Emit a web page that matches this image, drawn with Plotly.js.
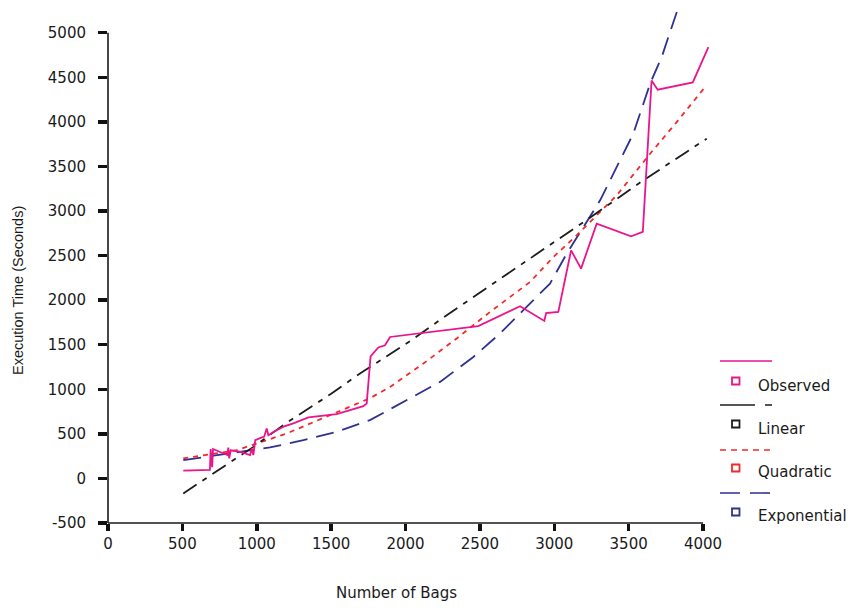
<!DOCTYPE html>
<html>
<head>
<meta charset="utf-8">
<script src="https://cdn.plot.ly/plotly-3.0.1.min.js"></script>
<style>html,body{margin:0;padding:0;background:#fff;}#chart{width:857px;height:608px;}</style>
</head>
<body>
<div id="chart"></div>
<script>
// ---- data ----
var seriesNames = ["Observed", "Linear", "Quadratic", "Exponential"];

var observedBags = [506, 685, 690, 700, 706, 802, 809, 815, 825, 887, 955, 966, 977, 985, 990, 1022, 1050, 1067, 1078, 1120, 1190, 1246, 1347, 1537, 1716, 1739, 1765, 1817, 1862, 1896, 2489, 2770, 2933, 2945, 3027, 3113, 3180, 3285, 3516, 3595, 3654, 3695, 3931, 4036];
var observedTime = [88, 95, 330, 125, 330, 262, 345, 225, 315, 300, 262, 335, 262, 345, 430, 452, 470, 560, 485, 530, 588, 617, 684, 721, 811, 841, 1370, 1469, 1494, 1587, 1708, 1932, 1767, 1856, 1868, 2559, 2354, 2859, 2716, 2765, 4465, 4361, 4443, 4839];

var linearBags = [506, 750, 977, 1201, 1500, 1694, 2030, 2250, 2500, 2750, 3000, 3263, 3577, 3800, 4025];
var linearTime = [-168, 105, 354, 625, 950, 1177, 1540, 1800, 2085, 2365, 2650, 2952, 3320, 3560, 3812];

var quadBags = [506, 865, 1201, 1536, 1761, 1896, 2120, 2344, 2568, 2748, 2837, 2994, 3151, 3285, 3420, 3644, 3823, 4013];
var quadTime = [224, 317, 504, 740, 900, 1027, 1289, 1570, 1868, 2092, 2204, 2484, 2728, 2952, 3176, 3643, 3998, 4390];

var expBags = [506, 865, 1089, 1313, 1537, 1761, 2008, 2232, 2456, 2635, 2792, 2971, 3084, 3195, 3308, 3531, 3644, 3722, 3827];
var expTime = [205, 298, 348, 429, 522, 654, 878, 1083, 1363, 1626, 1887, 2186, 2522, 2821, 3120, 3868, 4428, 4727, 5250];

var xTickVals = [0, 500, 1000, 1500, 2000, 2500, 3000, 3500, 4000];
var yTickVals = [-500, 0, 500, 1000, 1500, 2000, 2500, 3000, 3500, 4000, 4500, 5000];

// ---- styles ----
var colors = ["#e8158c", "#1c1c1c", "#f2282a", "#2e3192"];
var dashes = ["solid", "16px,7px,5px,7px", "5px,5px", "18px,9px"];
var legendDashes = ["solid", "35px,10px,7px,10px", "6px,5px", "20px,10px"];

var M = {l: 108, r: 148, t: 6, b: 85};
var W = 857, H = 608;
var pw = W - M.l - M.r, ph = H - M.t - M.b;
function px(x) { return (x - M.l) / pw; }
function py(y) { return (H - M.b - y) / ph; }

var bagsList = [observedBags, linearBags, quadBags, expBags];
var timeList = [observedTime, linearTime, quadTime, expTime];

var traces = [];
[3, 2, 1, 0].forEach(function (i) {
  traces.push({
    type: "scatter", mode: "lines", name: seriesNames[i],
    x: bagsList[i], y: timeList[i],
    line: {color: colors[i], width: 1.8, dash: dashes[i]},
    showlegend: false, hoverinfo: "x+y+name"
  });
});

var tickFont = {family: "DejaVu Sans, Verdana, sans-serif", size: 15, color: "#1a1a1a"};

var shapes = [
  // y axis line from -500 to 5000
  {type: "line", xref: "paper", yref: "y", x0: 0, x1: 0, y0: -500, y1: 5000,
   line: {color: "#1a1a1a", width: 1.6}},
  // x axis line from 0 to 4000
  {type: "line", xref: "x", yref: "paper", x0: 0, x1: 4000, y0: 0, y1: 0,
   line: {color: "#1a1a1a", width: 1.6}}
];
var annotations = [
  {text: "Number of Bags", xref: "paper", yref: "paper", x: px(396), y: py(593),
   xanchor: "center", yanchor: "middle", showarrow: false, font: tickFont},
  {text: "Execution Time (Seconds)", xref: "paper", yref: "paper", x: px(18), y: py(291),
   xanchor: "center", yanchor: "middle", textangle: -90, showarrow: false,
   font: {family: "Liberation Sans, Arial, sans-serif", size: 14.5, color: "#1a1a1a"}}
];

// custom legend: line sample row, then marker + label row
var legLineY = [361, 405, 450, 493];
var legMarkY = [381, 424, 468, 512];
var legTextY = [386, 429, 472, 516];
for (var i = 0; i < 4; i++) {
  shapes.push({type: "line", xref: "paper", yref: "paper",
    x0: px(720), x1: px(772), y0: py(legLineY[i]), y1: py(legLineY[i]),
    line: {color: colors[i], width: 1.6, dash: legendDashes[i]}});
  shapes.push({type: "rect", xref: "paper", yref: "paper",
    x0: px(732), x1: px(739.5), y0: py(legMarkY[i] + 3.5), y1: py(legMarkY[i] - 3.5),
    line: {color: colors[i], width: 1.8}, fillcolor: "rgba(0,0,0,0)"});
  annotations.push({text: seriesNames[i], xref: "paper", yref: "paper",
    x: px(756), y: py(legTextY[i]), xanchor: "left", yanchor: "middle",
    showarrow: false, font: tickFont});
}

var layout = {
  width: W, height: H,
  margin: M,
  paper_bgcolor: "#ffffff", plot_bgcolor: "#ffffff",
  showlegend: false,
  xaxis: {
    range: [0, 4040], tickvals: xTickVals, ticktext: xTickVals.map(String),
    showgrid: false, zeroline: false, showline: false,
    ticks: "outside", ticklen: 7, tickwidth: 3.5, tickcolor: "#111",
    tickfont: tickFont, fixedrange: true
  },
  yaxis: {
    range: [-500, 5300], tickvals: yTickVals, ticktext: yTickVals.map(String),
    showgrid: false, zeroline: false, showline: false,
    ticks: "outside", ticklen: 9, tickwidth: 3.5, tickcolor: "#111",
    ticklabelstandoff: 9,
    tickfont: tickFont, fixedrange: true
  },
  shapes: shapes,
  annotations: annotations
};

Plotly.newPlot("chart", traces, layout, {displayModeBar: false, staticPlot: true});
</script>
</body>
</html>
